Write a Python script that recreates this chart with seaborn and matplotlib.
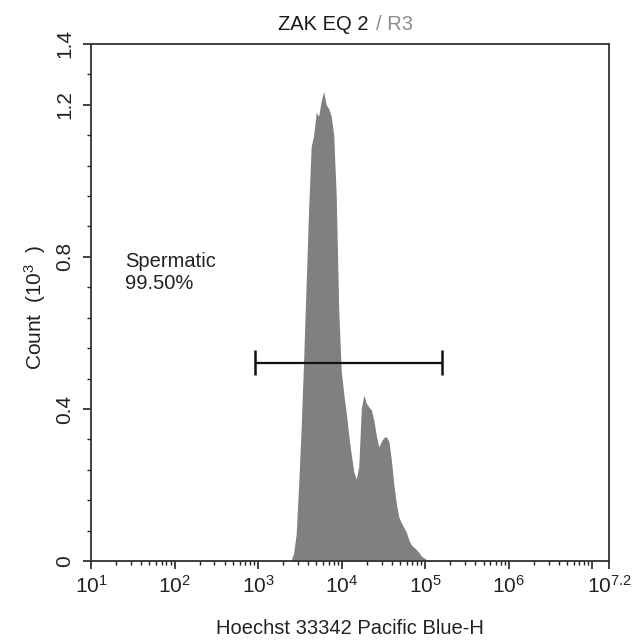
import numpy as np
import matplotlib
matplotlib.use("Agg")
import matplotlib.pyplot as plt
import seaborn as sns
from matplotlib.ticker import LogLocator, NullFormatter, MultipleLocator

# ---------------- data (counts in units of 10^3) ----------------
# main population: bins of width 0.03 decades starting at 10^3.38
main_start_log = 3.38
main_bin_w = 0.03
main_counts = [0.002, 0.02, 0.07, 0.20, 0.35, 0.53, 0.73, 0.93, 1.09, 1.12,
               1.18, 1.17, 1.21, 1.235, 1.20, 1.19, 1.17, 1.12, 0.96, 0.66,
               0.50, 0.44, 0.39, 0.33, 0.28, 0.235, 0.215, 0.25, 0.40, 0.437,
               0.415, 0.405, 0.398, 0.37, 0.33, 0.30, 0.315, 0.325, 0.327, 0.315,
               0.265, 0.20, 0.15, 0.115, 0.10, 0.088, 0.075, 0.055, 0.042, 0.036,
               0.03, 0.022, 0.013, 0.008, 0.004, 0.003, 0.002, 0.001]
# low-level debris: bins of width 0.1 decades starting at 10^1.5
tail_start_log = 1.5
tail_bin_w = 0.1
tail_counts = [0.001, 0.002, 0.001, 0.002, 0.003, 0.002, 0.002, 0.003, 0.003, 0.002,
               0.003, 0.003, 0.002, 0.003, 0.002, 0.002, 0.003, 0.002, 0.002]

gate_name = "Spermatic"
gate_pct = "99.50%"
gate_lo, gate_hi, gate_y = 920, 1.58e5, 0.522

title_main = "ZAK EQ 2"
title_sub = "/ R3"
xlabel = "Hoechst 33342 Pacific Blue-H"
ylabel = "Count  (10$^{3}$  )"
y_ticks = [0, 0.4, 0.8, 1.2, 1.36]
y_ticklabels = ["0", "0.4", "0.8", "1.2", "1.4"]
x_tick_exps = [1, 2, 3, 4, 5, 6, 7, 7.2]
x_ticklabels = ["$10^{1}$", "$10^{2}$", "$10^{3}$", "$10^{4}$", "$10^{5}$",
                "$10^{6}$", "", "$10^{7.2}$"]

# ---------------- style ----------------
sns.set_style("ticks")
plt.rcParams["font.family"] = ["Liberation Sans", "DejaVu Sans"]
plt.rcParams["mathtext.fontset"] = "custom"
plt.rcParams["mathtext.rm"] = "Liberation Sans"
plt.rcParams["mathtext.it"] = "Liberation Sans"
plt.rcParams["mathtext.default"] = "regular"

fig = plt.figure(figsize=(6.38, 6.41), dpi=100)
ax = fig.add_axes([91/638, 1-561/641, (609-91)/638, (561-44)/641])

fill_col = "#808080"

main_centers = 10 ** (main_start_log + main_bin_w * (np.arange(len(main_counts)) + 0.5))
tail_centers = 10 ** (tail_start_log + tail_bin_w * (np.arange(len(tail_counts)) + 0.5))

sns.histplot(x=main_centers, weights=main_counts, bins=len(main_counts),
             binrange=(main_start_log, main_start_log + main_bin_w * len(main_counts)),
             log_scale=True, element="poly", fill=True, color=fill_col,
             alpha=1, linewidth=0, ax=ax)
sns.histplot(x=tail_centers, weights=tail_counts, bins=len(tail_counts),
             binrange=(tail_start_log, tail_start_log + tail_bin_w * len(tail_counts)),
             log_scale=True, element="poly", fill=True, color="#b0b0b0",
             alpha=1, linewidth=0, ax=ax)

ax.set_xscale("log")
ax.set_xlim(10, 10 ** 7.2)
ax.set_ylim(0, 1.36)

# gate
ax.hlines(gate_y, gate_lo, gate_hi, color="#111111", lw=1.6)
ax.vlines([gate_lo, gate_hi], gate_y - 0.033, gate_y + 0.033, color="#111111", lw=1.8)
ax.text(0.066, 0.597, gate_name + "\n" + gate_pct, transform=ax.transAxes,
        ha="left", va="top", fontsize=14.5, color="#222222", linespacing=1.15)

# ticks
ax.set_xticks([10 ** e for e in x_tick_exps])
ax.set_xticklabels(x_ticklabels, fontsize=15, color="#222222")
ax.xaxis.set_minor_locator(LogLocator(base=10, subs=np.arange(2, 10), numticks=20))
ax.xaxis.set_minor_formatter(NullFormatter())
ax.set_yticks(y_ticks)
ax.set_yticklabels(y_ticklabels, rotation=90, va="center", fontsize=15, color="#222222")
ax.yaxis.set_minor_locator(MultipleLocator(0.08))
ax.tick_params(axis="both", which="major", direction="out", length=6, width=1.2,
               color="#222222", pad=4)
ax.tick_params(axis="both", which="minor", direction="out", length=3, width=1.0,
               color="#222222")
ax.tick_params(axis="y", which="major", pad=6)

for s in ax.spines.values():
    s.set_visible(True)
    s.set_color("#333333")
    s.set_linewidth(1.3)

ax.set_xlabel(xlabel, fontsize=14.5, color="#222222")
ax.xaxis.set_label_coords(0.5, -0.112)
ax.set_ylabel(ylabel, fontsize=15, color="#222222")
ax.yaxis.set_label_coords(-0.083, 0.49)

# title in two colours
fig.text(369/638, 1-30/641, title_main, ha="right", va="baseline",
         fontsize=14.5, color="#1a1a1a")
fig.text(376/638, 1-30/641, title_sub, ha="left", va="baseline",
         fontsize=14.5, color="#8c8c8c")

fig.savefig("out.png", dpi=100)
